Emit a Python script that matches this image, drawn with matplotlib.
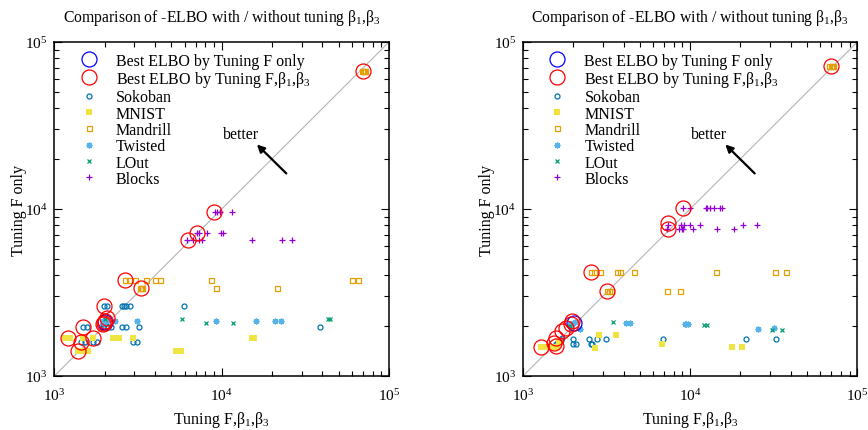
import matplotlib
matplotlib.use('Agg')
import matplotlib.pyplot as plt
from matplotlib.ticker import LogLocator, LogFormatterMathtext, NullFormatter

plt.rcParams['font.family'] = ['Liberation Serif', 'DejaVu Serif']
plt.rcParams['mathtext.fontset'] = 'custom'
plt.rcParams['mathtext.rm'] = 'Liberation Serif'
plt.rcParams['mathtext.it'] = 'Liberation Serif:italic'
plt.rcParams['mathtext.bf'] = 'Liberation Serif:bold'

# ---- left panel (x: tuning F,b1,b3 ; y: tuning F only) ----
L_sok_x = [1990, 2055, 2524, 2606, 2680, 2833, 5990,
           1476, 1574, 1963, 2104, 2172, 2524, 2680, 3223, 38700,
           1443, 1524, 1711, 1791, 2966, 3134,
           1950, 2000, 2030]
L_sok_y = [2625, 2625, 2625, 2625, 2625, 2625, 2625,
           1964, 1964, 1964, 1964, 1964, 1964, 1964, 1964, 1964,
           1599, 1599, 1599, 1599, 1599, 1599,
           2050, 2080, 2110]
L_mni_x = [1158, 1190, 1241, 1489, 1711, 2254, 2445, 2966, 15240, 15600,
           1391, 1430, 1470, 1596, 5310, 5720]
L_mni_y = [1690, 1690, 1690, 1690, 1690, 1690, 1690, 1690, 1690, 1690,
           1412, 1412, 1412, 1412, 1412, 1412]
L_man_x = [2643, 2793, 3017, 3513, 3997, 4278, 8670, 60400, 65600,
           3250, 3300, 3357, 9240, 21520,
           68500, 69600, 70600, 71500]
L_man_y = [3743, 3743, 3743, 3743, 3743, 3743, 3743, 3743, 3743,
           3364, 3364, 3364, 3364, 3364,
           66700, 66700, 66700, 66700]
L_twi_x = [1963, 2036, 2306, 3104, 9240, 15960, 20830, 22650, 1980, 2010]
L_twi_y = [2124, 2124, 2124, 2124, 2124, 2124, 2124, 2124, 2080, 2150]
L_lout_x = [5770, 43350, 44400, 8050, 11750, 2000]
L_lout_y = [2203, 2203, 2203, 2085, 2085, 2180]
L_blk_x = [9120, 9420, 9770, 11480,
           7100, 7330, 8130, 9910, 10140,
           6240, 6770, 7330, 7590, 15100, 22840, 26400]
L_blk_y = [9640, 9640, 9640, 9640,
           7150, 7150, 7150, 7150, 7150,
           6520, 6520, 6520, 6520, 6520, 6520, 6520]
L_bestf_x = [2000]
L_bestf_y = [2110]
L_best_x = [69600, 9020, 7100, 6280, 2643, 3300, 1990, 1960, 1985, 2010, 2060,
            1476, 1213, 1437, 1711, 1376]
L_best_y = [66700, 9640, 7150, 6520, 3743, 3364, 2625, 2040, 2090, 2140, 2220,
            1964, 1690, 1599, 1698, 1412]

# ---- right panel ----
R_sok_x = [2000, 2484, 2786, 3126, 6900, 21480, 32430,
           2000, 2066, 2541, 2600,
           1580, 1620, 1680, 1720]
R_sok_y = [1659, 1659, 1659, 1659, 1659, 1659, 1659,
           1549, 1549, 1549, 1549,
           1560, 1600, 1640, 1700]
R_mni_x = [1275, 1336, 1431, 1533, 1604, 2690, 17860, 20500, 6760, 2862, 3600, 1650]
R_mni_y = [1493, 1493, 1493, 1493, 1493, 1480, 1493, 1493, 1549, 1753, 1753, 1600]
R_man_x = [2542, 2661, 2890, 3664, 3800, 4615, 14220, 32050, 37580,
           3190, 3260, 3342, 7300, 8690,
           68000, 69200, 70500, 71800]
R_man_y = [4200, 4200, 4200, 4200, 4200, 4200, 4200, 4200, 4200,
           3245, 3245, 3245, 3245, 3245,
           71800, 71800, 71800, 71800]
R_twi_x = [4140, 4370, 9270, 9500, 9720, 25500, 31800, 2193, 1910, 1950, 2000, 2050]
R_twi_y = [2085, 2085, 2050, 2050, 2050, 1920, 1935, 1920, 2040, 2000, 2080, 2100]
R_lout_x = [3450, 12100, 12550, 30740, 35550, 1900]
R_lout_y = [2104, 2010, 2010, 1876, 1876, 1980]
R_blk_x = [9100, 9950, 12390, 12680, 13150, 13900, 15010, 15410,
           7400, 8810, 9230, 9970, 11460, 20800, 24990,
           7290, 8610, 8890, 9100, 10450, 14520, 18280]
R_blk_y = [10180, 10180, 10180, 10180, 10180, 10180, 10180, 10180,
           8020, 8020, 8020, 8020, 8020, 8020, 8020,
           7550, 7550, 7550, 7550, 7550, 7550, 7550]
R_bestf_x = [2010]
R_bestf_y = [2070]
R_best_x = [69200, 9100, 7400, 7400, 2542, 3165, 1974, 1930, 1800, 1718, 1567, 1531, 1567, 1288]
R_best_y = [71800, 10180, 8210, 7550, 4200, 3245, 2134, 2038, 1946, 1858, 1698, 1584, 1512, 1493]

lims = (1e3, 1e5)
title = 'Comparison of -ELBO with / without tuning β$_1$,β$_3$'
xlab = 'Tuning F,β$_1$,β$_3$'
ylab = 'Tuning F only'


def draw_panel(ax, sok, mni, man, twi, lout, blk, bestf, best):
    ax.plot(lims, lims, color='#b4b4b4', lw=0.8, zorder=1)
    h_sok, = ax.plot(*sok, ls='none', marker='o', ms=3.6, mfc='none', mec='#0072b2', mew=0.9, label='Sokoban')
    h_mni, = ax.plot(*mni, ls='none', marker='s', ms=3.8, color='#f0e442', mew=0, label='MNIST')
    h_man, = ax.plot(*man, ls='none', marker='s', ms=3.6, mfc='none', mec='#e69f00', mew=0.9, label='Mandrill')
    h_twi, = ax.plot(*twi, ls='none', marker=(8, 2, 0), ms=4.2, color='#56b4e9', mew=1.0, label='Twisted')
    h_lout, = ax.plot(*lout, ls='none', marker='x', ms=3.4, color='#009e73', mew=0.9, label='LOut')
    h_blk, = ax.plot(*blk, ls='none', marker='+', ms=4.2, color='#9400d3', mew=0.9, label='Blocks')
    h_bf, = ax.plot(*bestf, ls='none', marker='o', ms=10.8, mfc='none', mec='#0000ff', mew=0.9,
                    label='Best ELBO by Tuning F only')
    h_bfb, = ax.plot(*best, ls='none', marker='o', ms=10.8, mfc='none', mec='#ff0000', mew=0.9,
                     label='Best ELBO by Tuning F,β$_1$,β$_3$')

    ax.annotate('', xy=(15800, 25000), xytext=(25000, 15900),
                arrowprops=dict(arrowstyle='-|>', color='black', lw=1.6, mutation_scale=11))
    ax.text(13000, 28000, 'better', ha='center', va='center', fontsize=11.5)

    ax.set_xscale('log')
    ax.set_yscale('log')
    ax.set_xlim(lims)
    ax.set_ylim(lims)
    for axis in (ax.xaxis, ax.yaxis):
        axis.set_major_locator(LogLocator(base=10))
        axis.set_minor_locator(LogLocator(base=10, subs=range(2, 10)))
        axis.set_major_formatter(LogFormatterMathtext())
        axis.set_minor_formatter(NullFormatter())
    ax.tick_params(which='both', direction='in', top=True, right=True, labelsize=11, width=0.8)
    ax.tick_params(which='major', length=6)
    ax.tick_params(which='minor', length=3.5)
    ax.tick_params(axis='x', pad=8)
    ax.tick_params(axis='y', pad=5)
    for sp in ax.spines.values():
        sp.set_linewidth(1.1)

    ax.text(0.5, 1.075, title, transform=ax.transAxes, ha='center', va='center', fontsize=11.3)
    ax.set_xlabel(xlab, fontsize=11.5)
    ax.set_ylabel(ylab, fontsize=11.5)
    ax.xaxis.set_label_coords(0.5, -0.10)

    leg = ax.legend(handles=[h_bf, h_bfb, h_sok, h_mni, h_man, h_twi, h_lout, h_blk],
                    loc='upper left', bbox_to_anchor=(0.055, 0.968), frameon=False,
                    fontsize=11.5, handlelength=2.0, handletextpad=0.7,
                    labelspacing=0.02, borderpad=0, borderaxespad=0)
    return leg


fig = plt.figure(figsize=(8.68, 4.31), dpi=100)
ax1 = fig.add_axes([0.0626, 0.1253, 0.3856, 0.7749])
ax2 = fig.add_axes([0.6025, 0.1253, 0.3852, 0.7749])

draw_panel(ax1, (L_sok_x, L_sok_y), (L_mni_x, L_mni_y), (L_man_x, L_man_y),
           (L_twi_x, L_twi_y), (L_lout_x, L_lout_y), (L_blk_x, L_blk_y),
           (L_bestf_x, L_bestf_y), (L_best_x, L_best_y))
ax1.yaxis.set_label_coords(-0.082, 0.5)
draw_panel(ax2, (R_sok_x, R_sok_y), (R_mni_x, R_mni_y), (R_man_x, R_man_y),
           (R_twi_x, R_twi_y), (R_lout_x, R_lout_y), (R_blk_x, R_blk_y),
           (R_bestf_x, R_bestf_y), (R_best_x, R_best_y))
ax2.yaxis.set_label_coords(-0.085, 0.5)

fig.savefig('out.png', dpi=100)
